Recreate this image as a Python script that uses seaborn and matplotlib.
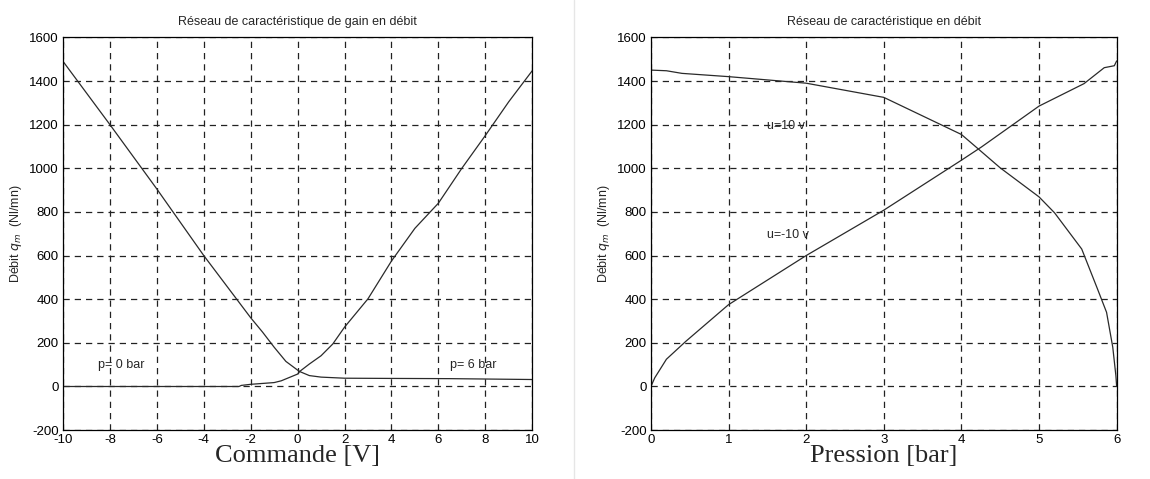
import numpy as np
import pandas as pd
import seaborn as sns
import matplotlib.pyplot as plt

# left chart: flow gain curves (commande in V)
cmd_p0 = [-10, -8, -6, -4, -2, -1.5, -1, -0.5, 0, 0.1, 0.5, 1, 2, 4, 6.5, 10]
flow_p0 = [1490, 1200, 905, 600, 315, 250, 180, 115, 75, 68, 50, 43, 38, 37, 36, 32]
cmd_p6 = [-10, -6, -2.5, -2.4, -2, -1, -0.7, 0, 0.1, 0.5, 1, 1.5, 2, 3, 4, 5, 6, 7, 8, 9, 10]
flow_p6 = [0, 0, 0, 5, 10, 18, 26, 57, 70, 103, 141, 195, 272, 402, 575, 725, 840, 1000, 1150, 1305, 1447]

# right chart: flow characteristic (pression in bar)
pres_u10 = [0, 0.2, 0.4, 1, 2, 3, 4, 4.2, 4.5, 5, 5.2, 5.55, 5.75, 5.87, 5.95, 5.99, 6]
flow_u10 = [1450, 1447, 1435, 1420, 1390, 1325, 1155, 1094, 1002, 869, 796, 630, 450, 340, 180, 50, 0]
pres_um10 = [0, 0.05, 0.2, 0.45, 1, 2, 3, 4, 4.26, 5, 5.58, 5.84, 5.97, 6]
flow_um10 = [0, 40, 125, 207, 375, 600, 808, 1037, 1098, 1285, 1388, 1461, 1470, 1492]

left_xticks = list(range(-10, 11, 2))
right_xticks = list(range(0, 7))
yticks = list(range(-200, 1601, 200))

sns.set_theme(style="white")
plt.rcParams['font.family'] = ['Liberation Sans', 'DejaVu Sans']
plt.rcParams['mathtext.fontset'] = 'dejavusans'
plt.rcParams['axes.unicode_minus'] = False

fig = plt.figure(figsize=(11.5, 4.79), dpi=100)
ax1 = fig.add_axes([0.0548, 0.102, 0.408, 0.820])
ax2 = fig.add_axes([0.566, 0.102, 0.405, 0.820])

line_kw = dict(color="#2a2a2a", linewidth=0.9, sort=False, estimator=None)

sns.lineplot(x=cmd_p0, y=flow_p0, ax=ax1, **line_kw)
sns.lineplot(x=cmd_p6, y=flow_p6, ax=ax1, **line_kw)
sns.lineplot(x=pres_u10, y=flow_u10, ax=ax2, **line_kw)
sns.lineplot(x=pres_um10, y=flow_um10, ax=ax2, **line_kw)

for ax, xt, xlabel, title in [
    (ax1, left_xticks, "Commande [V]", "Réseau de caractéristique de gain en débit"),
    (ax2, right_xticks, "Pression [bar]", "Réseau de caractéristique en débit"),
]:
    ax.set_xlim(xt[0], xt[-1])
    ax.set_ylim(-200, 1600)
    ax.set_xticks(xt)
    ax.set_yticks(yticks)
    ax.tick_params(direction="in", length=4, width=0.8, labelsize=9.5, pad=3, colors="black")
    ax.grid(True, color="#222222", linestyle=(0, (5, 4)), linewidth=0.9)
    for s in ax.spines.values():
        s.set_color("black")
        s.set_linewidth(0.9)
    ax.set_title(title, fontsize=9, pad=9)
    ax.set_xlabel(xlabel, family="Liberation Serif", fontsize=19, labelpad=-1)
    ax.set_ylabel(r"Débit $q_m$  (Nl/mn)", fontsize=9, labelpad=4)

ax1.text(-8.5, 98, "p= 0 bar", fontsize=9, va="center")
ax1.text(6.5, 98, "p= 6 bar", fontsize=9, va="center")
ax2.text(1.5, 1195, "u=10 v", fontsize=9, va="center")
ax2.text(1.5, 696, "u=-10 v", fontsize=9, va="center")

# faint separator between the two pictures
fig.add_artist(plt.Line2D([0.499, 0.499], [0.0, 1.0], color="#e6e6e6", linewidth=1))

fig.savefig("out.png", dpi=100, facecolor="white")
